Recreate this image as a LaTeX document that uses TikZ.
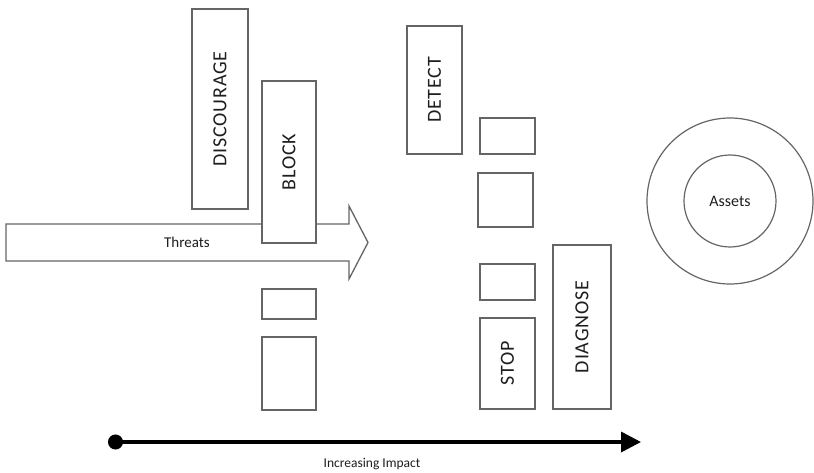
\documentclass[tikz,border=0pt]{standalone}
\usepackage{fontspec}
\setmainfont{Carlito}
\newfontfamily\spacedfont[LetterSpace=4]{Carlito}
\usepackage{tikz}
\usetikzlibrary{arrows.meta,positioning}
\definecolor{frame}{HTML}{656565}
\definecolor{ink}{HTML}{1E1E1E}
\tikzset{
    every picture/.style={line join=miter},
    layerbox/.style={draw=frame,fill=white,line width=1.3pt,inner sep=0pt,
      font=\spacedfont\fontsize{20}{22}\selectfont,text=ink},
    tallbox/.style={layerbox,rotate=90},
    ring/.style={draw=frame,circle,line width=1.2pt,inner sep=0pt},
    threatarrow/.style={draw=frame,fill=white,line width=1.3pt},
    impactline/.style={line width=3.5pt,draw=black,
      {Circle[length=15pt,width=15pt]}-{Triangle[length=20pt,width=20pt]}},
    caption/.style={text=ink,inner sep=1pt}
}
\begin{document}
\begin{tikzpicture}[x=1pt,y=-1pt]
  \useasboundingbox (0,0) rectangle (814,473);
  \draw[threatarrow] (6,224) -- (349,224) -- (349,206) -- (368,242.5)
    -- (349,279) -- (349,261) -- (6,261) -- cycle;
  \node[caption,font=\fontsize{15}{17}\selectfont] (threats) at (187,242) {Threats};
  \node[tallbox,minimum width=200pt,minimum height=56pt] (discourage) at (220,109) {DISCOURAGE};
  \node[tallbox,minimum width=162pt,minimum height=54pt] (block) at (289,162) {BLOCK};
  \node[layerbox,minimum width=54pt,minimum height=30pt] (blockA) at (289,304) {};
  \node[layerbox,minimum width=54pt,minimum height=73pt] (blockB) at (289,373.5) {};
  \node[tallbox,minimum width=128pt,minimum height=55pt] (detect) at (434.5,90) {DETECT};
  \node[layerbox,minimum width=55pt,minimum height=36pt] (detectA) at (507.5,136) {};
  \node[layerbox,minimum width=55pt,minimum height=54pt] (detectB) at (505.5,200) {};
  \node[layerbox,minimum width=55pt,minimum height=36pt] (stopA) at (507.5,282) {};
  \node[tallbox,minimum width=91pt,minimum height=55pt] (stop) at (507.5,363.5) {STOP};
  \node[tallbox,minimum width=164pt,minimum height=58pt] (diagnose) at (582,327) {DIAGNOSE};
  \node[ring,minimum size=166pt] (outer) at (730,201) {};
  \node[ring,minimum size=92pt,font=\fontsize{16}{18}\selectfont,text=ink] (assets) at (730,201) {Assets};
  \coordinate (low) at (108,442);
  \coordinate (high) at (641,442);
  \draw[impactline] (low) -- (high);
  \node[caption,font=\fontsize{13.5}{15}\selectfont] (impact) at (372,464) {Increasing Impact};
\end{tikzpicture}
\end{document}
